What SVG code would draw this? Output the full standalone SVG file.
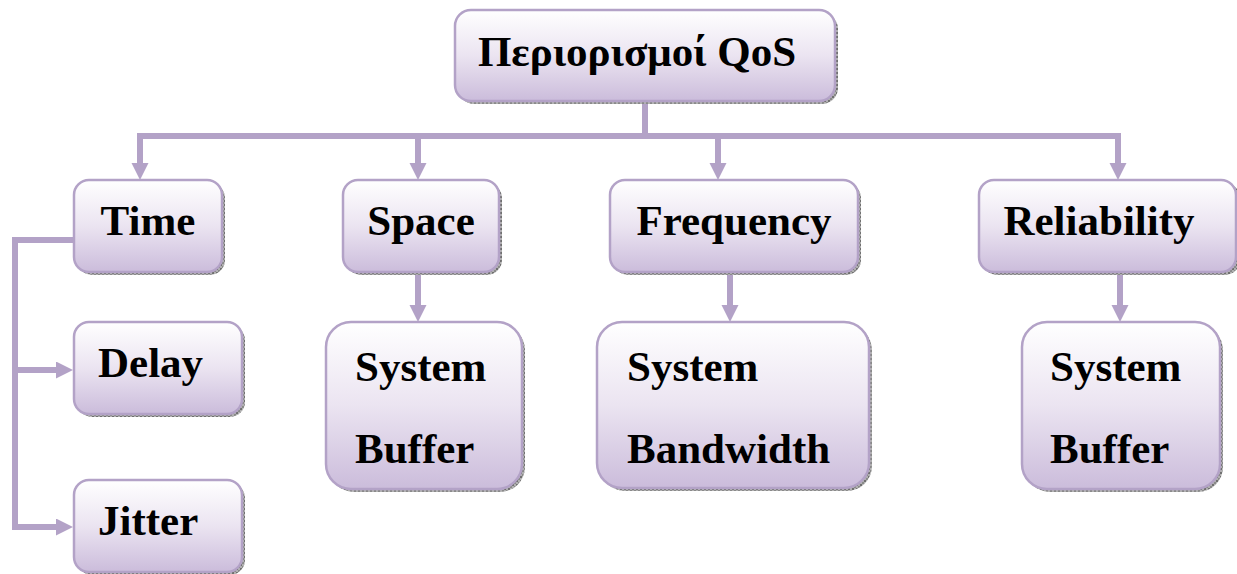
<svg xmlns="http://www.w3.org/2000/svg" width="1237" height="574" viewBox="0 0 1237 574">
<defs>
<linearGradient id="g" x1="0" y1="0" x2="0" y2="1">
<stop offset="0" stop-color="#ffffff"/>
<stop offset="0.5" stop-color="#ebe4f1"/>
<stop offset="1" stop-color="#cbbcdb"/>
</linearGradient>
<pattern id="hatch" width="4" height="4" patternUnits="userSpaceOnUse">
<rect width="4" height="4" fill="#b0b0b0"/>
<rect width="2" height="2" fill="#707070"/>
<rect x="2" y="2" width="2" height="2" fill="#8a8a8a"/>
</pattern>
<marker id="ah" markerWidth="18" markerHeight="18" refX="0" refY="8.5" orient="auto" markerUnits="userSpaceOnUse">
<path d="M0,0 L17,8.5 L0,17 Z" fill="#b3a2c7"/>
</marker>
</defs>
<style>
.box{fill:url(#g);stroke:#b3a2c7;stroke-width:2.5}
.sh{fill:url(#hatch)}
.t{font-family:"Liberation Serif","Times New Roman",serif;font-weight:bold;font-size:43px;fill:#000}
.c{fill:none;stroke:#b3a2c7;stroke-width:6}
</style>
<rect width="1237" height="574" fill="#ffffff"/>
<g id="connectors">
<polyline class="c" points="645,101 645,136"/>
<polyline class="c" points="137,136 1121,136"/>
<polyline class="c" points="140,133 140,163" marker-end="url(#ah)"/>
<polyline class="c" points="418,133 418,163" marker-end="url(#ah)"/>
<polyline class="c" points="718,133 718,163" marker-end="url(#ah)"/>
<polyline class="c" points="1118,133 1118,163" marker-end="url(#ah)"/>
<polyline class="c" points="418,273 418,305" marker-end="url(#ah)"/>
<polyline class="c" points="730,273 730,305" marker-end="url(#ah)"/>
<polyline class="c" points="1120,273 1120,305" marker-end="url(#ah)"/>
<polyline class="c" points="74,240 15,240 15,527 56,527" marker-end="url(#ah)"/>
<polyline class="c" points="15,370 56,370" marker-end="url(#ah)"/>
</g>
<g id="title">
<rect class="sh" x="458" y="13" width="380" height="91" rx="16"/>
<rect class="box" x="455" y="10" width="380" height="91" rx="16"/>
<text class="t" x="637" y="66" text-anchor="middle">Περιορισμοί QoS</text>
</g>
<g id="time">
<rect class="sh" x="77" y="183" width="148" height="92" rx="15"/>
<rect class="box" x="74" y="180" width="148" height="92" rx="15"/>
<text class="t" x="148" y="235" text-anchor="middle">Time</text>
</g>
<g id="space">
<rect class="sh" x="346" y="183" width="156" height="92" rx="15"/>
<rect class="box" x="343" y="180" width="156" height="92" rx="15"/>
<text class="t" x="421" y="235" text-anchor="middle">Space</text>
</g>
<g id="frequency">
<rect class="sh" x="613" y="183" width="248" height="92" rx="15"/>
<rect class="box" x="610" y="180" width="248" height="92" rx="15"/>
<text class="t" x="734" y="235" text-anchor="middle">Frequency</text>
</g>
<g id="reliability">
<rect class="sh" x="982" y="183" width="258" height="92" rx="15"/>
<rect class="box" x="979" y="180" width="257" height="92" rx="15"/>
<text class="t" x="1099" y="235" text-anchor="middle">Reliability</text>
</g>
<g id="delay">
<rect class="sh" x="77" y="325" width="168" height="92" rx="15"/>
<rect class="box" x="74" y="322" width="168" height="92" rx="15"/>
<text class="t" x="98" y="377">Delay</text>
</g>
<g id="jitter">
<rect class="sh" x="77" y="483" width="168" height="92" rx="15"/>
<rect class="box" x="74" y="480" width="168" height="92" rx="15"/>
<text class="t" x="98" y="535">Jitter</text>
</g>
<g id="space-buffer">
<rect class="sh" x="329" y="325" width="196" height="167" rx="25"/>
<rect class="box" x="326" y="322" width="196" height="167" rx="25"/>
<text class="t" x="355" y="381">System</text>
<text class="t" x="355" y="463">Buffer</text>
</g>
<g id="bandwidth">
<rect class="sh" x="600" y="325" width="272" height="166" rx="25"/>
<rect class="box" x="597" y="322" width="272" height="166" rx="25"/>
<text class="t" x="627" y="381">System</text>
<text class="t" x="627" y="463">Bandwidth</text>
</g>
<g id="rel-buffer">
<rect class="sh" x="1025" y="325" width="198" height="167" rx="25"/>
<rect class="box" x="1022" y="322" width="198" height="167" rx="25"/>
<text class="t" x="1050" y="381">System</text>
<text class="t" x="1050" y="463">Buffer</text>
</g>
</svg>
